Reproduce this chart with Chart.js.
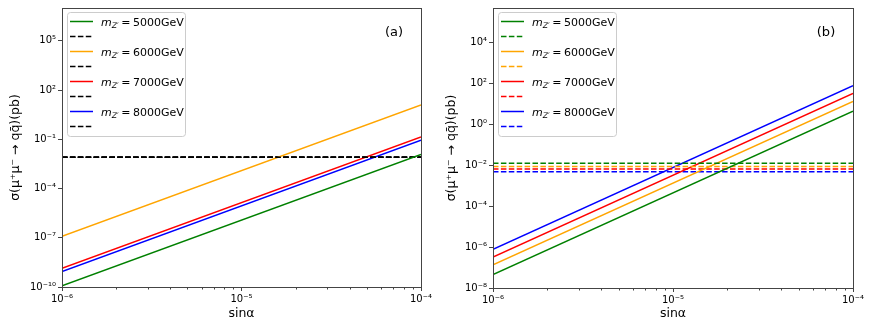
<!DOCTYPE html>
<html>
<head>
<meta charset="utf-8">
<script src="https://cdn.jsdelivr.net/npm/chart.js@4.4.0/dist/chart.umd.min.js"></script>
<style>
  body { margin: 0; background: #fff; }
  #wrap { position: relative; width: 872px; height: 327px; }
  canvas { position: absolute; top: 0; }
</style>
</head>
<body>
<div id="wrap">
  <canvas id="chartA" width="436" height="327" style="left:0"></canvas>
  <canvas id="chartB" width="436" height="327" style="left:436px"></canvas>
</div>
<script>
// x endpoints (sin alpha), lines are straight on log-log
const sinAlpha = [1e-6, 1e-4];
const masses = [5000, 6000, 7000, 8000];
const lineColors = ["green", "orange", "red", "blue"];

// panel (a)
const sigmaA5000 = [1.2e-10, 1.2e-2];
const sigmaA6000 = [1.25e-7, 12.5];
const sigmaA7000 = [1.4e-9, 0.14];
const sigmaA8000 = [8.7e-10, 0.087];
const limitA = [0.008, 0.008, 0.008, 0.008];

// panel (b)
const sigmaB5000 = [4.5e-8, 4.5];
const sigmaB6000 = [1.35e-7, 13.5];
const sigmaB7000 = [3.3e-7, 33];
const sigmaB8000 = [7.9e-7, 79];
const limitB = [0.0126, 0.0089, 0.0066, 0.0049];

const xTicks = [1e-6, 1e-5, 1e-4];
const xMinor = [2e-6, 3e-6, 4e-6, 5e-6, 6e-6, 7e-6, 8e-6, 9e-6,
                2e-5, 3e-5, 4e-5, 5e-5, 6e-5, 7e-5, 8e-5, 9e-5];
const yTicksA = [1e-10, 1e-7, 1e-4, 1e-1, 1e2, 1e5];
const yTicksB = [1e-8, 1e-6, 1e-4, 1e-2, 1, 1e2, 1e4];

Chart.defaults.font.family = "DejaVu Sans";
Chart.defaults.color = "#000";

const SUP = {"-": "\u207B", "0": "\u2070", "1": "\u00B9", "2": "\u00B2", "3": "\u00B3",
  "4": "\u2074", "5": "\u2075", "6": "\u2076", "7": "\u2077", "8": "\u2078", "9": "\u2079"};
function pow10Label(v) {
  const e = Math.round(Math.log10(v));
  return "10" + String(e).split("").map(c => SUP[c]).join("");
}

function buildDatasets(solid, limits, dashColors) {
  const ds = [];
  solid.forEach((ys, i) => {
    ds.push({
      label: "m_Z' = " + masses[i] + "GeV", mass: masses[i],
      data: sinAlpha.map((x, j) => ({x: x, y: ys[j]})),
      borderColor: lineColors[i], borderWidth: 1.5
    });
    ds.push({
      label: "",
      data: sinAlpha.map(x => ({x: x, y: limits[i]})),
      borderColor: dashColors[i], borderWidth: 1.5, borderDash: [5.5, 2.4]
    });
  });
  return ds;
}

function roundRectPath(ctx, x, y, w, h, r) {
  ctx.beginPath();
  ctx.moveTo(x + r, y);
  ctx.lineTo(x + w - r, y);
  ctx.arcTo(x + w, y, x + w, y + r, r);
  ctx.lineTo(x + w, y + h - r);
  ctx.arcTo(x + w, y + h, x + w - r, y + h, r);
  ctx.lineTo(x + r, y + h);
  ctx.arcTo(x, y + h, x, y + h - r, r);
  ctx.lineTo(x, y + r);
  ctx.arcTo(x, y, x + r, y, r);
  ctx.closePath();
}

// frame, minor ticks, panel tag and legend box
const decor = {
  id: "decor",
  afterDatasetsDraw(chart, args, opts) {
    const {ctx, chartArea: a, scales} = chart;
    ctx.save();
    ctx.strokeStyle = "#444";
    ctx.lineWidth = 1;
    ctx.setLineDash([]);
    ctx.strokeRect(Math.round(a.left) + 0.5, Math.round(a.top) + 0.5,
      Math.round(a.right - a.left), Math.round(a.bottom - a.top));
    ctx.beginPath();
    xMinor.forEach(v => {
      const px = Math.round(scales.x.getPixelForValue(v)) + 0.5;
      ctx.moveTo(px, a.bottom);
      ctx.lineTo(px, a.bottom + 2.5);
    });
    ctx.stroke();

    ctx.fillStyle = "#000";
    ctx.font = "13px 'DejaVu Sans'";
    ctx.textAlign = "center";
    ctx.textBaseline = "middle";
    ctx.fillText(opts.tag, a.right - 27, a.top + 25);

    // legend
    const x0 = a.left + 5, y0 = a.top + 4, rowH = 15;
    const n = chart.data.datasets.length;
    roundRectPath(ctx, x0 + 0.5, y0 + 0.5, 118, rowH * n + 4, 3);
    ctx.fillStyle = "rgba(255,255,255,0.8)";
    ctx.fill();
    ctx.strokeStyle = "#ccc";
    ctx.stroke();
    chart.data.datasets.forEach((ds, i) => {
      const y = y0 + 9.5 + i * rowH;
      ctx.strokeStyle = ds.borderColor;
      ctx.lineWidth = 1.5;
      ctx.setLineDash(ds.borderDash || []);
      ctx.beginPath();
      ctx.moveTo(x0 + 3, y);
      ctx.lineTo(x0 + 26, y);
      ctx.stroke();
      if (!ds.mass) return;
      ctx.setLineDash([]);
      ctx.fillStyle = "#000";
      ctx.textAlign = "left";
      ctx.textBaseline = "alphabetic";
      let tx = x0 + 34;
      const base = y + 4;
      ctx.font = "italic 11px 'DejaVu Sans'";
      ctx.fillText("m", tx, base);
      tx += ctx.measureText("m").width;
      ctx.font = "italic 7.7px 'DejaVu Sans'";
      ctx.fillText("Z\u2032", tx, base + 2.5);
      tx += ctx.measureText("Z\u2032").width + 2.5;
      ctx.font = "11px 'DejaVu Sans'";
      ctx.fillText("=", tx, base);
      tx += ctx.measureText("=").width + 2.5;
      ctx.fillText(ds.mass + "GeV", tx, base);
    });
    ctx.restore();
  }
};

function makeChart(id, datasets, yMin, yMax, yTicks, yWidth, xHeight, padRight, tag) {
  return new Chart(document.getElementById(id), {
    type: "line",
    data: {datasets: datasets},
    plugins: [decor],
    options: {
      responsive: false,
      animation: false,
      devicePixelRatio: 1,
      layout: {padding: {top: 6, right: padRight, left: 0, bottom: 0}},
      elements: {point: {radius: 0}, line: {tension: 0}},
      plugins: {legend: {display: false}, tooltip: {enabled: false}, decor: {tag: tag}},
      scales: {
        x: {
          type: "logarithmic", min: sinAlpha[0], max: sinAlpha[1],
          afterBuildTicks: s => { s.ticks = xTicks.map(v => ({value: v})); },
          afterFit: s => { s.height = xHeight; },
          ticks: {autoSkip: false, maxRotation: 0, padding: 2, font: {size: 10},
            callback: v => pow10Label(v)},
          grid: {drawOnChartArea: false, tickLength: 4, tickColor: "#444"},
          border: {color: "#444", width: 1},
          title: {display: true, text: "sin\u03B1", font: {size: 12.5}, padding: {top: 0, bottom: 6}}
        },
        y: {
          type: "logarithmic", min: yMin, max: yMax,
          afterBuildTicks: s => { s.ticks = yTicks.map(v => ({value: v})); },
          afterFit: s => { s.width = yWidth; },
          ticks: {autoSkip: false, padding: 2, font: {size: 10},
            callback: v => pow10Label(v)},
          grid: {drawOnChartArea: false, tickLength: 4, tickColor: "#444"},
          border: {color: "#444", width: 1},
          title: {display: true, text: "\u03C3(\u03BC\u207A\u03BC\u207B \u2192 qq\u0304)(pb)",
            font: {size: 12.5}, padding: {top: 8, bottom: 0}}
        }
      }
    }
  });
}

const blacks = ["black", "black", "black", "black"];
makeChart("chartA",
  buildDatasets([sigmaA5000, sigmaA6000, sigmaA7000, sigmaA8000], limitA, blacks),
  1e-10, 1e7, yTicksA, 62, 40, 15, "(a)");
makeChart("chartB",
  buildDatasets([sigmaB5000, sigmaB6000, sigmaB7000, sigmaB8000], limitB, lineColors),
  1e-8, 5e5, yTicksB, 57, 39, 19, "(b)");
</script>
</body>
</html>
